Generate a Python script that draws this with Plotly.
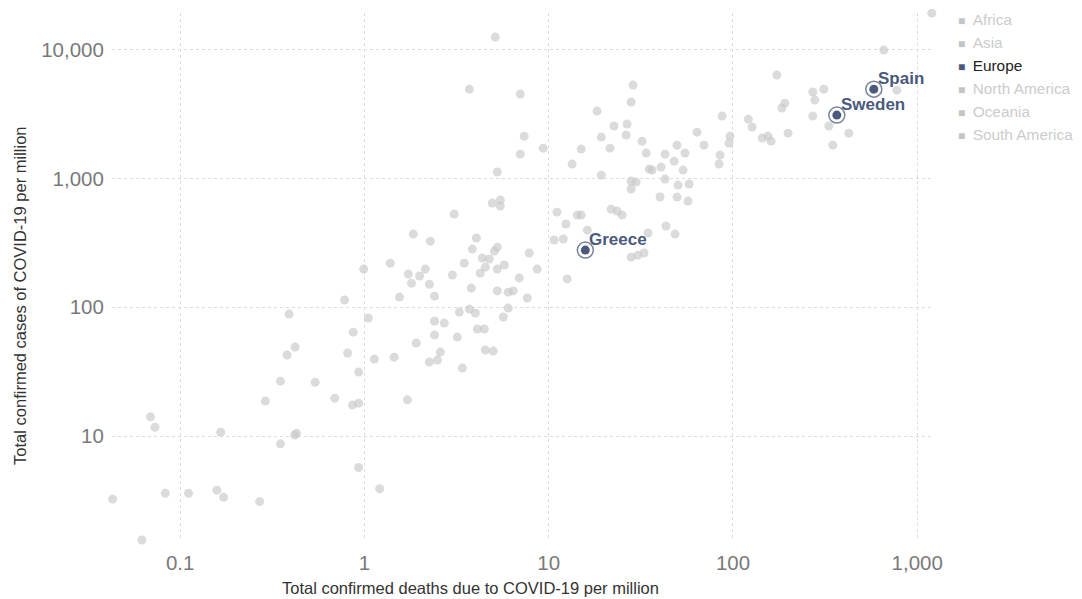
import math
import plotly.graph_objects as go

# Grey points: deaths per million (x) and cases per million (y)
deaths = [0.043, 0.062, 0.083, 0.111, 0.158, 0.172, 0.27, 0.069, 0.073, 0.166,
          0.418, 0.428, 0.35, 0.93, 1.21, 0.29, 0.69, 0.86, 0.93, 0.35,
          0.54, 0.93, 1.13, 0.81, 0.38, 0.42, 0.87, 1.05, 0.39, 0.78,
          0.99, 1.80, 2.25, 1.55, 2.40, 3.80, 5.26, 6.03, 6.42, 7.65,
          12.6, 3.27, 3.71, 4.0, 6.03, 5.67, 2.40, 2.71, 4.10, 4.47,
          2.40, 3.19, 1.91, 2.58, 2.25, 2.49, 4.53, 5.0, 3.40, 1.45,
          1.71, 5.13, 3.71, 7.01, 7.36, 9.33, 7.01, 5.26, 4.94, 5.46,
          5.46, 3.07, 1.84, 2.28, 4.05, 3.85, 5.26, 5.07, 7.84, 1.38,
          3.48, 4.36, 4.76, 4.53, 4.25, 5.26, 5.74, 1.73, 1.99, 2.14,
          3.0, 6.92, 8.66, 28.7, 28.0, 18.3, 22.6, 26.6, 26.3, 19.3,
          21.5, 15.0, 32.1, 33.8, 13.4, 19.3, 35.1, 28.0, 29.8, 28.0,
          11.1, 14.3, 15.0, 21.8, 23.5, 25.0, 12.4, 16.2, 10.7, 12.0,
          34.6, 28.0, 30.5, 32.9, 1199, 658, 173, 311, 271, 278,
          774, 191, 184, 271, 331, 425, 348, 87.2, 121, 127,
          144, 155, 161, 199, 63.8, 69.6, 96.3, 95.1, 85.1, 84,
          49.7, 54.9, 42.8, 47.9, 36.4, 40.7, 53.6, 42.8, 50.3, 57.8,
          40.2, 49.7, 57.0, 43.3, 48.5]
cases = [3.24, 1.56, 3.6, 3.6, 3.8, 3.35, 3.1, 14.1, 11.7, 10.7,
         10.2, 10.5, 8.7, 5.7, 3.9, 18.7, 19.7, 17.4, 18.0, 26.7,
         26.2, 31.4, 39.6, 44.1, 42.6, 49.1, 64.1, 82.4, 88.5, 114,
         198, 154, 151, 120, 122, 141, 134, 131, 134, 118,
         166, 91.8, 96.8, 90.2, 98.6, 84, 78.2, 75.4, 67.8, 67.8,
         60.8, 58.7, 52.7, 44.9, 37.6, 38.9, 46.6, 45.7, 33.7, 41,
         19.1, 12530, 4940, 4520, 2130, 1720, 1545, 1122, 644, 680,
         611, 530, 370, 326, 345, 283, 293, 273, 264, 220,
         220, 241, 237, 205, 184, 198, 213, 181, 175, 198,
         178, 169, 198, 5310, 3920, 3335, 2555, 2645, 2172, 2096,
         1720, 1692, 1950, 1574, 1294, 1062, 1183, 955, 938, 828,
         548, 520, 520, 578, 558, 520, 443, 397, 333, 339,
         377, 245, 254, 264, 19230, 9930, 6350, 4940, 4690, 4060,
         4850, 3845, 3525, 3050, 2555, 2250, 1815, 3050, 2890, 2506,
         2060, 2135, 1950, 2250, 2290, 1815, 2135, 1884, 1520, 1294,
         1815, 1574, 1545, 1364, 1162, 1228, 1162, 989, 889, 906,
         718, 718, 668, 427, 370]

# Highlighted countries
hl_names = ["Spain", "Sweden", "Greece"]
hl_deaths = [581, 366, 15.8]
hl_cases = [4940, 3105, 278]

# Legend
continents = ["Africa", "Asia", "Europe", "North America", "Oceania", "South America"]
active = ["Europe"]

# Axis ticks
x_tickvals = [0.1, 1, 10, 100, 1000]
x_ticktext = ["0.1", "1", "10", "100", "1,000"]
y_tickvals = [10, 100, 1000, 10000]
y_ticktext = ["10", "100", "1,000", "10,000"]

NAVY = "#4b5a7c"
GREY_PT = "#c8c8c8"
FONT = "Liberation Sans, Arial, Helvetica, sans-serif"

fig = go.Figure()

fig.add_trace(go.Scatter(
    x=deaths, y=cases, mode="markers", showlegend=False, hoverinfo="skip",
    marker=dict(size=9, color=GREY_PT, opacity=0.65, line=dict(width=0)),
    cliponaxis=False,
))

fig.add_trace(go.Scatter(
    x=hl_deaths, y=hl_cases, mode="markers", showlegend=False, hoverinfo="skip",
    marker=dict(size=16, symbol="circle-open", color=NAVY, opacity=0.75,
                line=dict(width=1.5, color=NAVY)),
    cliponaxis=False,
))

fig.add_trace(go.Scatter(
    x=hl_deaths, y=hl_cases, mode="markers", showlegend=False,
    marker=dict(size=9, color=NAVY, line=dict(width=0)),
    cliponaxis=False,
))

for c in continents:
    if c in active:
        sq, tc = NAVY, "#222222"
    else:
        sq, tc = "#c4c4c4", "#cccccc"
    name = ("<span style='color:%s;font-size:12px'>■</span>\u00a0\u2009"
            "<span style='color:%s'>%s</span>") % (sq, tc, c)
    fig.add_trace(go.Scatter(
        x=[None], y=[None], mode="markers", name=name,
        marker=dict(size=1, color="rgba(0,0,0,0)"),
    ))

grid = dict(gridcolor="#dcdcdc", gridwidth=1, griddash="3px,3px",
            showline=False, zeroline=False)

fig.update_xaxes(
    type="log", range=[-1.37, 3.08], tickvals=x_tickvals, ticktext=x_ticktext,
    ticks="outside", ticklen=4, tickcolor="rgba(0,0,0,0)",
    tickfont=dict(family=FONT, size=20.5, color="#7a7a7a"), **grid,
)
fig.update_yaxes(
    type="log", range=[0.193, 4.285], tickvals=y_tickvals, ticktext=y_ticktext,
    ticks="outside", ticklen=3, tickcolor="rgba(0,0,0,0)",
    tickfont=dict(family=FONT, size=20.5, color="#7a7a7a"), **grid,
)

# Country labels (log axes: annotation coordinates in log10 units)
labels = [
    dict(x=math.log10(hx), y=math.log10(hy), xref="x", yref="y",
         text="<b>%s</b>" % n, xanchor="left", yanchor="middle",
         xshift=2, yshift=11, showarrow=False,
         font=dict(family=FONT, size=17, color=NAVY))
    for n, hx, hy in zip(hl_names, hl_deaths, hl_cases)
]

fig.update_layout(
    width=1074, height=591,
    margin=dict(l=104, r=150, t=5, b=59, autoexpand=False),
    paper_bgcolor="white", plot_bgcolor="white",
    font=dict(family=FONT),
    legend=dict(x=0.983, xanchor="left", y=1.0195, yanchor="top",
                font=dict(family=FONT, size=15.4, color="#cccccc"),
                bgcolor="rgba(0,0,0,0)", itemclick=False, itemdoubleclick=False),
    annotations=labels + [
        dict(text="Total confirmed deaths due to COVID-19 per million",
             xref="paper", yref="paper", x=0.4366, y=-0.0914,
             xanchor="center", yanchor="middle", showarrow=False,
             font=dict(family=FONT, size=16.5, color="#333333")),
        dict(text="Total confirmed cases of COVID-19 per million",
             xref="paper", yref="paper", x=-0.112, y=0.4635, textangle=-90,
             xanchor="center", yanchor="middle", showarrow=False,
             font=dict(family=FONT, size=16.5, color="#333333")),
    ],
)

fig.write_html("out.html")
